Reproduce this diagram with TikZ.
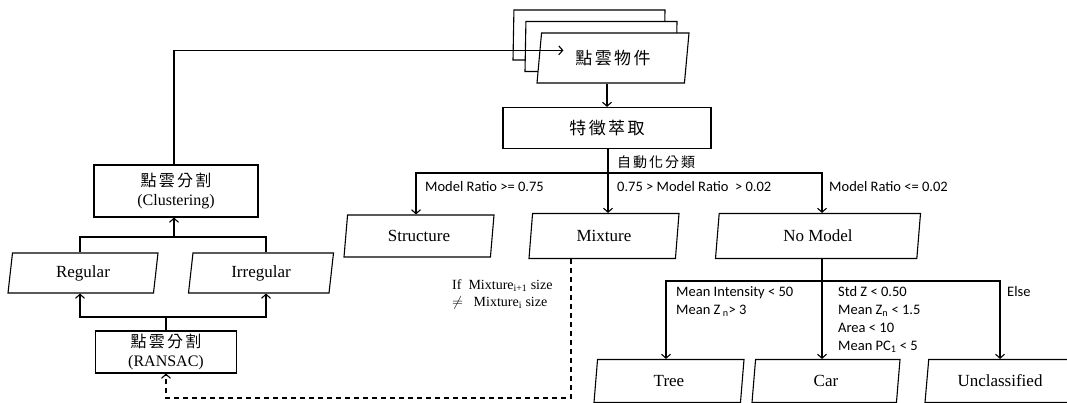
\documentclass[tikz,border=0pt]{standalone}
\usepackage{fontspec}
\usepackage{amsmath}
\usepackage{tikz}
\usetikzlibrary{shapes.geometric,arrows.meta,calc}
\setmainfont{Liberation Serif}
\newfontfamily\cjk[LetterSpace=14]{Noto Sans CJK TC}
\newfontfamily\lbl{Carlito}

\tikzset{
    base/.style={draw, line width=1.1pt, fill=white, inner sep=2pt,
        font=\fontsize{17}{20}\selectfont},
    boxnode/.style={base, rectangle, align=center},
    parabox/.style={base, trapezium, trapezium left angle=77,
        trapezium right angle=103, trapezium stretches body,
        minimum width=150pt, minimum height=45pt},
    arr/.style={line width=1.1pt, -{Straight Barb[length=4pt,width=9pt]}},
    ln/.style={line width=1.1pt},
    cond/.style={anchor=west, inner sep=0pt, align=left,
        font=\lbl\fontsize{14.5}{18}\selectfont},
}

\begin{document}
\begin{tikzpicture}[x=1pt,y=-1pt]
                \useasboundingbox (0,0) rectangle (1067,403);
                % stack of objects
                \node [parabox, minimum height=50pt, minimum width=152pt] (objback) at (589,35) {};
                \node [parabox, minimum height=50pt, minimum width=152pt] (objmid) at (601,46.5) {};
                \node [parabox, minimum height=50pt, minimum width=152pt] (objfront) at (613,58) {\cjk 點雲物件};
                \node [boxnode, minimum width=208pt, minimum height=41pt] (feat) at (607,128) {\cjk 特徵萃取};
                % classes
                \node [parabox, minimum height=42pt] (struct) at (419,236) {Structure};
                \node [parabox] (mix) at (604,236) {Mixture};
                \node [parabox, minimum width=205pt] (nomod) at (818,236) {No Model};
                \node [parabox, minimum height=43pt] (tree) at (669,381) {Tree};
                \node [parabox, minimum height=43pt, minimum width=148pt] (car) at (826,381) {Car};
                \node [parabox, minimum height=43pt] (uncl) at (1000,381) {Unclassified};
                % segmentation
                \node [boxnode, minimum width=164pt, minimum height=52pt, font=\fontsize{16}{19}\selectfont] (clu) at (176,191)
                    {{\cjk 點雲分割}\\(Clustering)};
                \node [parabox, minimum height=40pt] (reg) at (83,273) {Regular};
                \node [parabox, minimum height=40pt, minimum width=145pt] (irr) at (261,273) {Irregular};
                \node [boxnode, minimum width=141pt, minimum height=42pt, font=\fontsize{16}{19}\selectfont, inner sep=1pt] (ransac) at (166,352)
                    {{\cjk 點雲分割}\\(RANSAC)};
                % junctions
                \coordinate (split) at (608,173);
                \coordinate (split2) at (822,281);
                \coordinate (jlow) at (166,317);
                \coordinate (jup) at (174,237);
                \coordinate (loop) at (571,398);
                % connectors
                \draw [arr] (clu.north -| jup) |- ($(objback.south west)!0.2!(objback.north west)$);
                \draw [arr] (feat.north |- objfront.south) -- (feat.north);
                \draw [ln] (feat.south -| split) -- (split);
                \draw [arr] (split) -| ([xshift=-3pt]struct.north);
                \draw [arr] (split) -- (split |- mix.north);
                \draw [arr] (split) -| (nomod.north -| split2);
                \draw [ln] (nomod.south -| split2) -- (split2);
                \draw [arr] (split2) -| ([xshift=-3pt]tree.north);
                \draw [arr] (split2) -- (split2 |- car.north);
                \draw [arr] (split2) -| (uncl.north);
                \draw [ln] (ransac.north) -- (jlow);
                \draw [arr] (jlow) -| ([xshift=-3pt]reg.south);
                \draw [arr] (jlow) -| ([xshift=5pt]irr.south);
                \draw [ln] ([xshift=-3pt]reg.north) |- (jup);
                \draw [ln] ([xshift=5pt]irr.north) |- (jup);
                \draw [arr] (jup) -- (jup |- clu.south);
                \draw [arr, dash pattern=on 5pt off 4pt] (mix.south -| loop) -- (loop) -| (ransac.south);
                % labels
                \node [anchor=west, inner sep=0pt, font=\cjk\fontsize{14}{16}\selectfont] (auto) at (617,162) {自動化分類};
                \node [cond] (c1) at (425,187) {Model Ratio >= 0.75};
                \node [cond] (c2) at (617,187) {0.75 > Model Ratio~~> 0.02};
                \node [cond] (c3) at (829,187) {Model Ratio <= 0.02};
                \node [cond, anchor=north west] (c4) at (676,286) {Mean Intensity < 50\\Mean Z\,\textsubscript{n}> 3};
                \node [cond, anchor=north west] (c5) at (838,286) {Std Z < 0.50\\Mean Z\textsubscript{n} < 1.5\\Area < 10\\Mean PC\textsubscript{1} < 5};
                \node [cond, anchor=north west] (c6) at (1007,286) {Else};
                \node [anchor=north west, inner sep=0pt, align=left, font=\fontsize{14}{17}\selectfont] (note) at (452,279)
                    {If~ Mixture\textsubscript{i+1} size\\$\neq$~~ Mixture\textsubscript{i} size};
            \end{tikzpicture}
\end{document}
